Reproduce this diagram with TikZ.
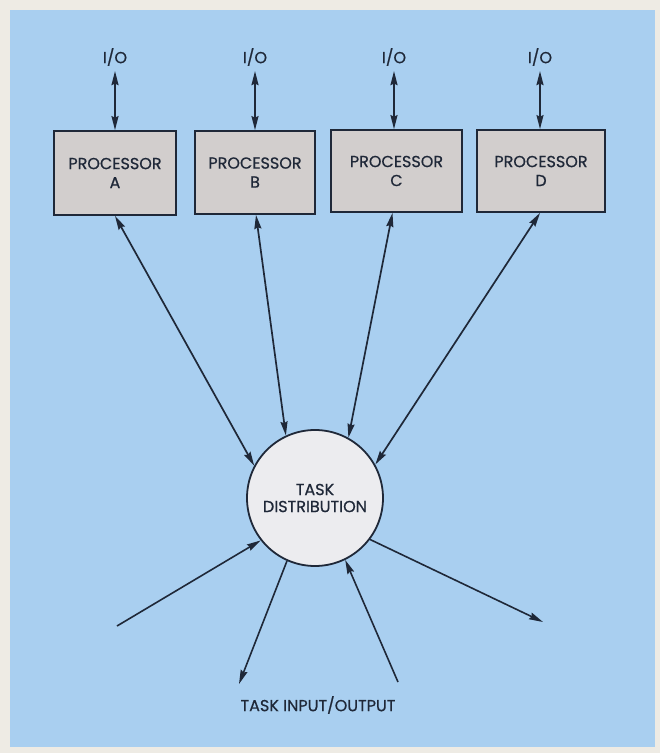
\documentclass[tikz,border=0pt]{standalone}
\usepackage{fontspec}
\newfontfamily\labfont{Poppins}[FakeBold=0.6]
\usetikzlibrary{arrows.meta,calc}
\definecolor{frame}{HTML}{EEEBE4}
\definecolor{bgblue}{HTML}{A9CFF0}
\definecolor{boxgrey}{HTML}{D2CECD}
\definecolor{circfill}{HTML}{ECECEF}
\definecolor{ink}{HTML}{1F2838}
\begin{document}
\begin{tikzpicture}[x=1pt,y=-1pt,
  lbl/.style={text=ink,font=\labfont\fontsize{16}{19}\selectfont,inner sep=0pt},
  procbox/.style={draw=ink,line width=1.8pt,fill=boxgrey,text=ink,align=center,
    font=\labfont\fontsize{16}{19}\selectfont,inner sep=0pt},
  distcirc/.style={circle,draw=ink,line width=1.8pt,fill=circfill,text=ink,align=center,
    font=\labfont\fontsize{16}{17}\selectfont,inner sep=0pt,minimum size=136pt},
  tip/.style={-{Stealth[length=14pt,width=7pt,inset=1.5pt]}},
  biarrow/.style={{Stealth[length=14pt,width=7pt,inset=1.5pt]}-{Stealth[length=14pt,width=7pt,inset=1.5pt]},draw=ink,line width=1.7pt},
  link/.style={draw=ink,line width=1.6pt},
  every path/.style={line cap=butt}]
\fill[frame] (0,0) rectangle (660,753);
\fill[bgblue] (10,10) rectangle (655,747);
\useasboundingbox (0,0) rectangle (660,753);

% processors
\node[procbox,minimum width=122pt,minimum height=84pt] (A) at (115,173) {PROCESSOR\\A};
\node[procbox,minimum width=120pt,minimum height=83pt] (B) at (255,172.5) {PROCESSOR\\B};
\node[procbox,minimum width=131pt,minimum height=82pt] (C) at (396.5,171) {PROCESSOR\\C};
\node[procbox,minimum width=128pt,minimum height=82pt] (D) at (541,171) {PROCESSOR\\D};

% I/O labels
\node[lbl] (ioA) at (115,57) {I/O};
\node[lbl] (ioB) at (255,57) {I/O};
\node[lbl] (ioC) at (394,57) {I/O};
\node[lbl] (ioD) at (540,57) {I/O};

\draw[biarrow] ($(ioA.south)+(0,5)$) -- (A.north);
\draw[biarrow] ($(ioB.south)+(0,5)$) -- (B.north);
\draw[biarrow] ($(ioC.south)+(0,5)$) -- ($(C.north)+(-2.5,0)$);
\draw[biarrow] ($(ioD.south)+(0,5)$) -- ($(D.north)+(-1,0)$);

% task distribution
\node[distcirc] (td) at (315,498) {TASK\\DISTRIBUTION};

\draw[biarrow] (A.south) -- (td.152.7);
\draw[biarrow] ($(B.south)+(1,0)$) -- (td.115);
\draw[biarrow] ($(C.south)+(-4,0)$) -- (td.61.5);
\draw[biarrow] ($(D.south)+(-1,0)$) -- (td.29);

% task input/output
\coordinate (l1) at (117,626);
\coordinate (l2) at (239,684);
\coordinate (l3) at (398,682);
\coordinate (l4) at (543,622);
\draw[link,tip] (l1) -- (td.218);
\draw[link,tip] (td.246.7) -- (l2);
\draw[link,tip] (l3) -- (td.296.6);
\draw[link,tip] (td.323.3) -- (l4);

\node[lbl] (tio) at (318,705) {TASK INPUT/OUTPUT};
\end{tikzpicture}
\end{document}
